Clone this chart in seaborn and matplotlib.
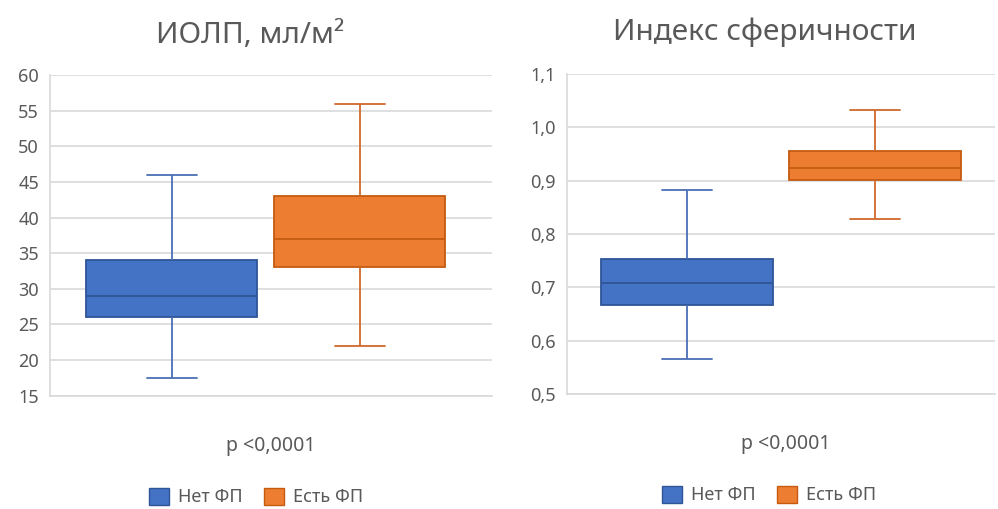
import numpy as np
import pandas as pd
import matplotlib
matplotlib.use("Agg")
import matplotlib.pyplot as plt
from matplotlib.patches import Patch
from matplotlib.ticker import FixedLocator
import seaborn as sns

# ---- data (five-number summaries: min, Q1, median, Q3, max)
groups = ["Нет ФП", "Есть ФП"]
iolp_net = [17.5, 26, 29, 34, 46]
iolp_est = [22, 33, 37, 43, 56]
sph_net = [0.565, 0.667, 0.709, 0.754, 0.883]
sph_est = [0.828, 0.901, 0.924, 0.955, 1.033]

titles = ["ИОЛП, мл/м²", "Индекс сферичности"]
iolp_ticks = [15, 20, 25, 30, 35, 40, 45, 50, 55, 60]
sph_ticks = [0.5, 0.6, 0.7, 0.8, 0.9, 1.0, 1.1]
sph_labels = ["0,5", "0,6", "0,7", "0,8", "0,9", "1,0", "1,1"]
p_text = "p <0,0001"

fill_colors = ["#4472C4", "#ED7D31"]
edge_colors = ["#2F5597", "#C55A11"]
whisk_colors = ["#4A6FB5", "#D0692A"]

sns.set_theme(style="white")
plt.rcParams["font.family"] = ["Noto Sans", "DejaVu Sans"]
TXT = "#595959"
GRID = "#D9D9D9"

fig = plt.figure(figsize=(9.98, 5.09), dpi=100)
ax1 = fig.add_axes([50 / 998, 1 - 395.7 / 509, 442 / 998, (395.7 - 75) / 509])
ax2 = fig.add_axes([567 / 998, 1 - 394 / 509, 428 / 998, (394 - 74) / 509])


def make_df(a, b):
    return pd.DataFrame({
        "cat": [""] * (len(a) + len(b)),
        "val": list(a) + list(b),
        "grp": [groups[0]] * len(a) + [groups[1]] * len(b),
    })


def draw(ax, df, ylim, ticks, labels, xlim):
    sns.boxplot(data=df, x="cat", y="val", hue="grp", hue_order=groups,
                palette=fill_colors, whis=(0, 100), width=0.8, gap=0.09,
                linewidth=1.1, saturation=1, legend=False, ax=ax,
                showfliers=False)
    for i, cont in enumerate(ax.containers):
        ec, wc = edge_colors[i], whisk_colors[i]
        for b in cont.boxes:
            b.set_edgecolor(ec)
            b.set_facecolor(fill_colors[i])
            b.set_linewidth(1.3)
        for m in cont.medians:
            m.set_color(ec)
            m.set_linewidth(1.3)
        for w in cont.whiskers:
            w.set_color(wc)
            w.set_linewidth(1.3)
        for c in cont.caps:
            c.set_color(wc)
            c.set_linewidth(1.3)
            xd = c.get_xdata()
            xc = np.mean(xd)
            c.set_xdata([xc - 0.053, xc + 0.053])
    ax.set_ylim(*ylim)
    ax.set_xlim(*xlim)
    ax.yaxis.set_major_locator(FixedLocator(ticks))
    ax.set_yticklabels(labels)
    ax.set_xticks([])
    ax.set_xlabel("")
    ax.set_ylabel("")
    ax.grid(axis="y", color=GRID, linewidth=1.2)
    ax.set_axisbelow(True)
    for s in ["top", "right"]:
        ax.spines[s].set_visible(False)
    for s in ["left", "bottom"]:
        ax.spines[s].set_visible(True)
        ax.spines[s].set_color(GRID)
        ax.spines[s].set_linewidth(1.2)
    ax.tick_params(axis="y", length=0, pad=8, labelsize=13, labelcolor=TXT)
    ax.set_facecolor("white")


draw(ax1, make_df(iolp_net, iolp_est), (15, 60), iolp_ticks,
     [str(t) for t in iolp_ticks], (-0.459, 0.481))
draw(ax2, make_df(sph_net, sph_est), (0.5, 1.1), sph_ticks, sph_labels,
     (-0.455, 0.455))

# titles
fig.text(250 / 998, 1 - 43 / 509, titles[0], ha="center", va="baseline",
         fontsize=21.5, color=TXT)
fig.text(765 / 998, 1 - 40 / 509, titles[1], ha="center", va="baseline",
         fontsize=21.5, color=TXT)

# p-value captions
fig.text(271 / 998, 1 - 451 / 509, p_text, ha="center", va="baseline",
         fontsize=14, color=TXT)
fig.text(786 / 998, 1 - 449 / 509, p_text, ha="center", va="baseline",
         fontsize=14, color=TXT)

# legends
handles = [Patch(facecolor=fill_colors[i], edgecolor=edge_colors[i], label=groups[i])
           for i in range(2)]
for cx, cy in [(256, 497), (769, 495)]:
    fig.legend(handles=handles, loc="center", bbox_to_anchor=(cx / 998, 1 - cy / 509),
               ncol=2, frameon=False, fontsize=13, labelcolor=TXT,
               handlelength=1.1, handleheight=1.1, handletextpad=0.5,
               columnspacing=1.2)

fig.savefig("out.png", dpi=100, facecolor="white")
